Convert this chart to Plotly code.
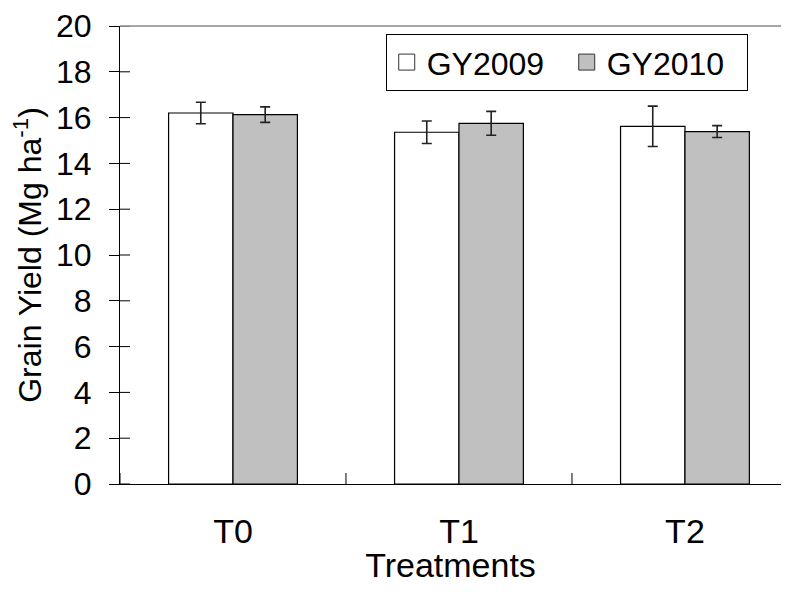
import plotly.graph_objects as go

categories = ["T0", "T1", "T2"]
gy2009 = [16.2, 15.36, 15.62]
gy2009_err = [0.47, 0.49, 0.88]
gy2010 = [16.13, 15.75, 15.39]
gy2010_err = [0.34, 0.52, 0.26]
y_ticks = list(range(0, 21, 2))
x_idx = list(range(len(categories)))

FONT = "Liberation Sans, Arial, sans-serif"

fig = go.Figure()
fig.add_trace(go.Bar(
    x=x_idx, y=gy2009, name="GY2009", showlegend=False,
    marker=dict(color="white", line=dict(color="black", width=1.2)),
    error_y=dict(type="data", array=gy2009_err, color="#222", thickness=1.6, width=5),
))
fig.add_trace(go.Bar(
    x=x_idx, y=gy2010, name="GY2010", showlegend=False,
    marker=dict(color="#c0c0c0", line=dict(color="black", width=1.2)),
    error_y=dict(type="data", array=gy2010_err, color="#222", thickness=1.6, width=5),
))
# legend entries
fig.add_trace(go.Scatter(x=[None], y=[None], mode="markers", name="GY2009",
                         marker=dict(symbol="square", size=20, color="white",
                                     line=dict(color="#333", width=1))))
fig.add_trace(go.Scatter(x=[None], y=[None], mode="markers", name="GY2010",
                         marker=dict(symbol="square", size=20, color="#c0c0c0",
                                     line=dict(color="#333", width=1))))

shapes = []
# inside parts of y ticks
for v in y_ticks:
    shapes.append(dict(type="line", xref="x", yref="y", xsizemode="pixel", xanchor=-0.5,
                       x0=0, x1=10, y0=v, y1=v, line=dict(color="black", width=1)))
# x category boundary ticks (crossing)
for b in [-0.5, 0.5, 1.5]:
    shapes.append(dict(type="line", xref="x", yref="y", ysizemode="pixel", yanchor=0,
                       x0=b, x1=b, y0=-11, y1=11, line=dict(color="black", width=1)))
# top border
shapes.append(dict(type="line", xref="paper", yref="paper", x0=0, x1=1, y0=1, y1=1,
                   line=dict(color="#888", width=1.5)))

fig.update_layout(
    width=773, height=576,
    margin=dict(l=112, r=0, t=14, b=98),
    paper_bgcolor="white", plot_bgcolor="white",
    barmode="group", bargap=0.43, bargroupgap=0,
    font=dict(family=FONT, size=32, color="black"),
    shapes=shapes,
    legend=dict(orientation="h", x=0.402, y=0.983, xanchor="left", yanchor="top",
                bordercolor="black", borderwidth=1, bgcolor="white",
                font=dict(size=32, family=FONT), itemsizing="trace",
                itemwidth=30, tracegroupgap=0, entrywidth=135),
    xaxis=dict(range=[-0.5, 2.425], tickmode="array", tickvals=x_idx, ticktext=categories,
               ticks="", showline=True, linecolor="black", linewidth=1,
               showgrid=False, zeroline=False, ticklabelstandoff=17,
               tickfont=dict(size=34),
               title=dict(text="Treatments", standoff=10, font=dict(size=34))),
    yaxis=dict(range=[0, 20], tickmode="array", tickvals=y_ticks,
               ticks="outside", ticklen=10, tickcolor="black", tickwidth=1,
               showline=True, linecolor="black", linewidth=1,
               showgrid=False, zeroline=False, ticklabelstandoff=11,
               ticklabeloverflow="allow",
               tickfont=dict(size=32),
               title=dict(text="Grain Yield (Mg ha<sup>-1</sup>)", standoff=12,
                          font=dict(size=32))),
)

fig.write_html("out.html")
